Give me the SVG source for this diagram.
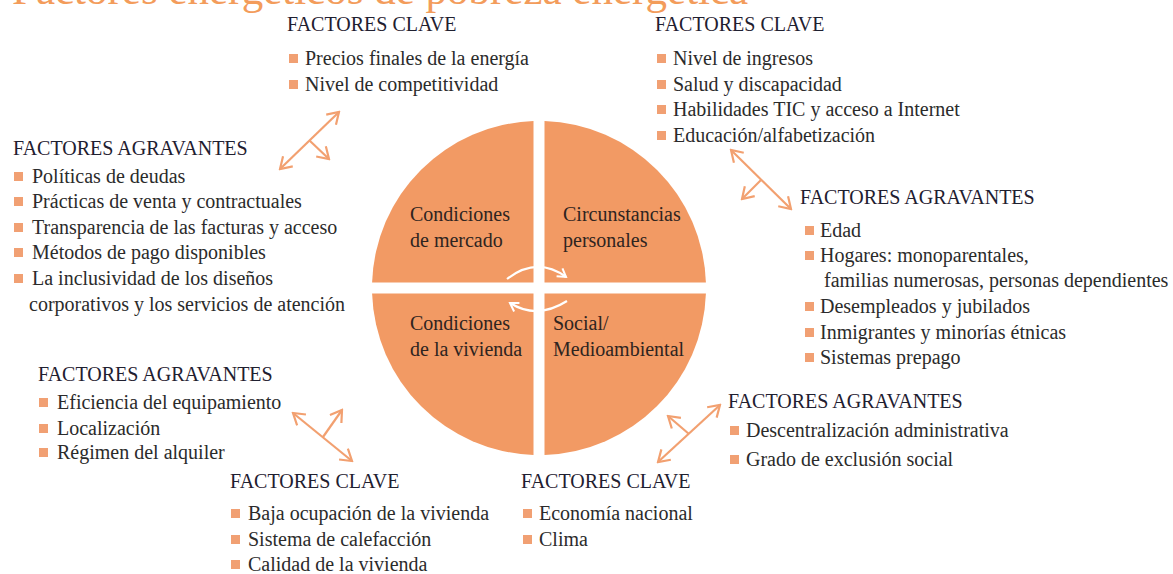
<svg xmlns="http://www.w3.org/2000/svg" width="1173" height="574" viewBox="0 0 1173 574">
<defs>
<style>
text{font-family:"Liberation Serif","Times New Roman",serif;font-size:20px}
.h{fill:#1f2030}
.i{fill:#2b2b2b}
.q{fill:#2e241f}
.b{fill:#F1A073}
.quad{fill:#F29A64}
.c{stroke:#F2A070;stroke-width:2.2;fill:none}
.w{stroke:#ffffff;stroke-width:2.2;fill:none}
.title{fill:#F39C5B;font-size:43px}
</style>
<marker id="ah" viewBox="0 0 16 16" markerWidth="16" markerHeight="16" refX="14" refY="8" orient="auto-start-reverse" markerUnits="userSpaceOnUse"><path d="M3,1 L14,8 L3,15" stroke="#F2A070" stroke-width="2.2" fill="none"/></marker>
<marker id="wh" viewBox="0 0 12 12" markerWidth="12" markerHeight="12" refX="10" refY="6" orient="auto" markerUnits="userSpaceOnUse"><path d="M2,1 L10,6 L2,11" stroke="#ffffff" stroke-width="2" fill="none"/></marker>
</defs>
<rect width="1173" height="574" fill="#ffffff"/>
<g id="title"><text class="title" x="12" y="4">Factores energéticos de pobreza energética</text></g>

<g id="q-mercado"><path class="quad" d="M533.5,121.09 A167,167 0 0 0 372.09,282.5 L533.5,282.5 Z"/><text class="q" x="410" y="221">Condiciones</text><text class="q" x="410" y="247">de mercado</text></g>
<g id="q-personales"><path class="quad" d="M544.5,121.09 A167,167 0 0 1 705.91,282.5 L544.5,282.5 Z"/><text class="q" x="563" y="221">Circunstancias</text><text class="q" x="563" y="247">personales</text></g>
<g id="q-vivienda"><path class="quad" d="M533.5,454.91 A167,167 0 0 1 372.09,293.5 L533.5,293.5 Z"/><text class="q" x="410" y="330">Condiciones</text><text class="q" x="410" y="356">de la vivienda</text></g>
<g id="q-social"><path class="quad" d="M544.5,454.91 A167,167 0 0 0 705.91,293.5 L544.5,293.5 Z"/><text class="q" x="553" y="330">Social/</text><text class="q" x="553" y="356">Medioambiental</text></g>

<g id="clave-mercado">
<text class="h" x="287" y="31">FACTORES CLAVE</text>
<rect class="b" x="289" y="54" width="9" height="9"/><text class="i" x="305" y="65">Precios finales de la energía</text>
<rect class="b" x="289" y="80" width="9" height="9"/><text class="i" x="305" y="91">Nivel de competitividad</text>
</g>
<g id="clave-personales">
<text class="h" x="655" y="31">FACTORES CLAVE</text>
<rect class="b" x="657" y="54" width="9" height="9"/><text class="i" x="673" y="65">Nivel de ingresos</text>
<rect class="b" x="657" y="80" width="9" height="9"/><text class="i" x="673" y="91">Salud y discapacidad</text>
<rect class="b" x="657" y="105" width="9" height="9"/><text class="i" x="673" y="116">Habilidades TIC y acceso a Internet</text>
<rect class="b" x="657" y="131" width="9" height="9"/><text class="i" x="673" y="142">Educación/alfabetización</text>
</g>
<g id="agravantes-mercado">
<text class="h" x="13" y="155">FACTORES AGRAVANTES</text>
<rect class="b" x="14" y="172" width="9" height="9"/><text class="i" x="32" y="183">Políticas de deudas</text>
<rect class="b" x="14" y="197" width="9" height="9"/><text class="i" x="32" y="208">Prácticas de venta y contractuales</text>
<rect class="b" x="14" y="223" width="9" height="9"/><text class="i" x="32" y="234">Transparencia de las facturas y acceso</text>
<rect class="b" x="14" y="248" width="9" height="9"/><text class="i" x="32" y="259">Métodos de pago disponibles</text>
<rect class="b" x="14" y="274" width="9" height="9"/><text class="i" x="32" y="285">La inclusividad de los diseños</text>
<text class="i" x="29" y="311">corporativos y los servicios de atención</text>
</g>
<g id="agravantes-personales">
<text class="h" x="800" y="204">FACTORES AGRAVANTES</text>
<rect class="b" x="805" y="226" width="9" height="9"/><text class="i" x="820" y="237">Edad</text>
<rect class="b" x="805" y="251" width="9" height="9"/><text class="i" x="820" y="262">Hogares: monoparentales,</text>
<text class="i" x="824" y="287">familias numerosas, personas dependientes</text>
<rect class="b" x="805" y="302" width="9" height="9"/><text class="i" x="820" y="313">Desempleados y jubilados</text>
<rect class="b" x="805" y="328" width="9" height="9"/><text class="i" x="820" y="339">Inmigrantes y minorías étnicas</text>
<rect class="b" x="805" y="353" width="9" height="9"/><text class="i" x="820" y="364">Sistemas prepago</text>
</g>
<g id="agravantes-vivienda">
<text class="h" x="38" y="381">FACTORES AGRAVANTES</text>
<rect class="b" x="39" y="398" width="9" height="9"/><text class="i" x="57" y="409">Eficiencia del equipamiento</text>
<rect class="b" x="39" y="424" width="9" height="9"/><text class="i" x="57" y="435">Localización</text>
<rect class="b" x="39" y="448" width="9" height="9"/><text class="i" x="57" y="459">Régimen del alquiler</text>
</g>
<g id="clave-vivienda">
<text class="h" x="230" y="488">FACTORES CLAVE</text>
<rect class="b" x="231" y="509" width="9" height="9"/><text class="i" x="248" y="520">Baja ocupación de la vivienda</text>
<rect class="b" x="231" y="535" width="9" height="9"/><text class="i" x="248" y="546">Sistema de calefacción</text>
<rect class="b" x="231" y="560" width="9" height="9"/><text class="i" x="248" y="571">Calidad de la vivienda</text>
</g>
<g id="clave-social">
<text class="h" x="521" y="488">FACTORES CLAVE</text>
<rect class="b" x="523" y="509" width="9" height="9"/><text class="i" x="539" y="520">Economía nacional</text>
<rect class="b" x="523" y="535" width="9" height="9"/><text class="i" x="539" y="546">Clima</text>
</g>
<g id="agravantes-social">
<text class="h" x="728" y="408">FACTORES AGRAVANTES</text>
<rect class="b" x="730" y="426" width="9" height="9"/><text class="i" x="746" y="437">Descentralización administrativa</text>
<rect class="b" x="730" y="455" width="9" height="9"/><text class="i" x="746" y="466">Grado de exclusión social</text>
</g>

<g id="connectors">
<line class="c" x1="280" y1="169" x2="339" y2="112" marker-start="url(#ah)" marker-end="url(#ah)"/>
<line class="c" x1="309.5" y1="140.5" x2="329" y2="159" marker-end="url(#ah)"/>
<line class="c" x1="731" y1="150" x2="791" y2="209" marker-start="url(#ah)" marker-end="url(#ah)"/>
<line class="c" x1="761" y1="180" x2="742" y2="199" marker-end="url(#ah)"/>
<line class="c" x1="293" y1="413" x2="352" y2="461" marker-start="url(#ah)" marker-end="url(#ah)"/>
<line class="c" x1="323" y1="437" x2="342" y2="410" marker-end="url(#ah)"/>
<line class="c" x1="658" y1="462" x2="720" y2="405" marker-start="url(#ah)" marker-end="url(#ah)"/>
<line class="c" x1="689" y1="434" x2="668" y2="416" marker-end="url(#ah)"/>
<path class="w" d="M507,279 Q537,256 566,277" marker-end="url(#wh)"/>
<path class="w" d="M567,301 Q537,320 510,303" marker-end="url(#wh)"/>
</g>
</svg>
